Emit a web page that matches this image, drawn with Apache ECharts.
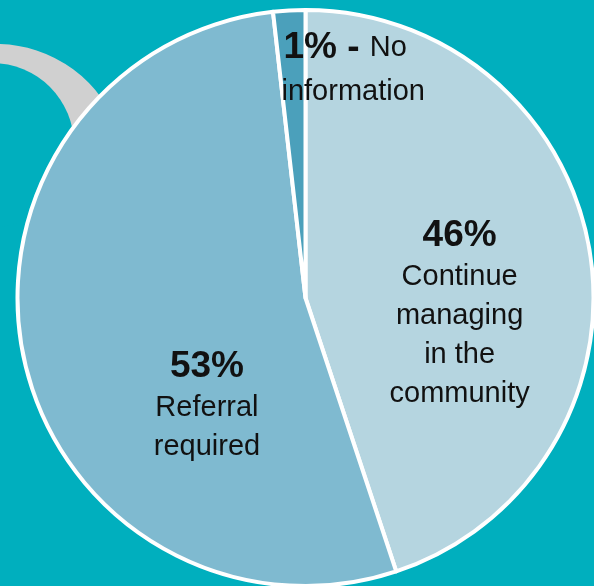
<!DOCTYPE html>
<html>
<head>
<meta charset="utf-8">
<script src="https://cdn.jsdelivr.net/npm/echarts@6/dist/echarts.min.js"></script>
<style>
  html, body { margin: 0; padding: 0; background: #00AFBE; }
  #chart { width: 594px; height: 586px; }
</style>
</head>
<body>
<div id="chart"></div>
<script>
// ---- data ----
const categories = ['Continue managing in the community', 'Referral required', 'No information'];
const sliceValues = [44.9, 53.3, 1.8];          // slice sizes as drawn
const percentLabels = ['46%', '53%', '1%'];     // printed percentages
const labelTexts = [
  ['Continue', 'managing', 'in the', 'community'],
  ['Referral', 'required'],
  ['No', 'information']
];
// ---- styles ----
const sliceColors = ['#B5D5E0', '#7FBAD0', '#4BA0BB'];
const labelOffsets = [[9, 39], [45, 76], [56, -81]];
const bg = '#00AFBE';
const FONT = 'Liberation Sans';

const chart = echarts.init(document.getElementById('chart'));

const data = categories.map((name, i) => ({
  name: name,
  value: sliceValues[i],
  itemStyle: { color: sliceColors[i] }
}));

function fmt(params) {
  const i = params.dataIndex;
  const lines = labelTexts[i];
  if (i === 2) {
    // trailing spaces keep the wrapped first line set slightly left, as in the source
    return '{p|' + percentLabels[i] + ' - }{t1|' + lines[0] + '  }\n{t1|' + lines[1] + '}';
  }
  return '{p|' + percentLabels[i] + '}\n' + lines.map(l => '{t|' + l + '}').join('\n');
}

chart.setOption({
  backgroundColor: bg,
  animation: false,
  graphic: {
    elements: [
      {
        type: 'sector', z: 0, silent: true,
        shape: { cx: -4, cy: 174, r0: 50, r: 130, startAngle: -Math.PI, endAngle: -0.3, clockwise: true },
        style: { fill: '#D0D0D0' }
      },
      {
        type: 'circle', z: 1, silent: true,
        shape: { cx: -8, cy: 145, r: 82 },
        style: { fill: bg }
      }
    ]
  },
  series: [{
    type: 'pie',
    z: 5,
    center: [305.5, 298],
    radius: [0, 288],
    startAngle: 90,
    clockwise: true,
    avoidLabelOverlap: false,
    data: data,
    itemStyle: { borderColor: '#FFFFFF', borderWidth: 4 },
    labelLine: { show: false },
    label: {
      show: true,
      position: 'inside',
      formatter: fmt,
      color: '#111111',
      fontFamily: FONT,
      rich: {
        p: { fontSize: 37, fontWeight: 'bold', lineHeight: 44, color: '#111111', fontFamily: FONT },
        t: { fontSize: 29, lineHeight: 39, color: '#111111', fontFamily: FONT },
        t1: { fontSize: 29, lineHeight: 44, color: '#111111', fontFamily: FONT }
      }
    },
    labelLayout: function (params) {
      const o = labelOffsets[params.dataIndex];
      return { dx: o[0], dy: o[1] };
    },
    emphasis: { disabled: true }
  }]
});
</script>
</body>
</html>
